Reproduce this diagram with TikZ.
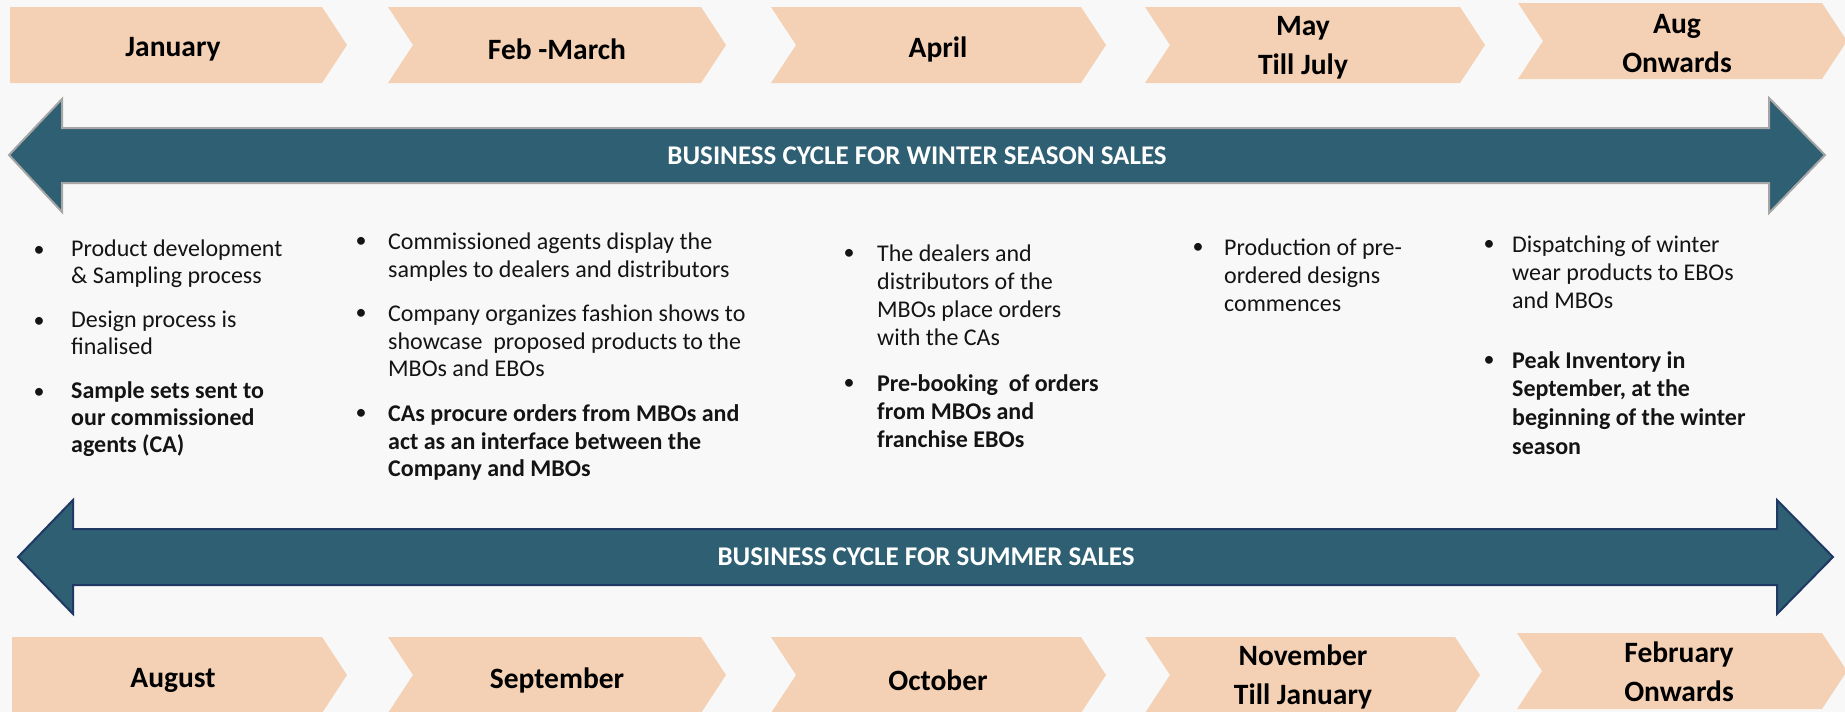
\documentclass[tikz,border=0pt]{standalone}
\usepackage{fontspec}
\setmainfont{Carlito}
\definecolor{peach}{RGB}{244,209,180}
\definecolor{arrowfill}{RGB}{46,95,114}
\definecolor{bgcol}{RGB}{248,248,248}
\definecolor{outgray}{RGB}{166,166,166}
\definecolor{navyline}{RGB}{31,56,100}
\definecolor{txt}{RGB}{20,20,20}
\newcommand\mychev[4]{\fill[chev] (#1,#3) -- (#2,#3) -- ({#2+25},{(#3+#4)/2}) -- (#2,#4) -- (#1,#4) -- ({#1+25},{(#3+#4)/2}) -- cycle;}
\tikzset{
  chev/.style={fill=peach},
  mlabel/.style={font=\fontsize{29.5}{39}\selectfont\bfseries, text=black, align=center, inner sep=0pt},
  alabel/.style={font=\fontsize{27}{30}\selectfont\bfseries, text=white, inner sep=0pt},
  ln/.style={anchor=base west, inner sep=0pt, font=\fontsize{24}{27}\selectfont, text=txt},
  lnb/.style={ln, font=\fontsize{24}{27}\selectfont\bfseries},
  bul/.style={anchor=base, inner sep=0pt, font=\fontsize{22}{27}\selectfont, text=txt},
}
\begin{document}
\begin{tikzpicture}[x=1pt,y=-1pt]
\useasboundingbox (0,0) rectangle (1845,712);
\fill[bgcol] (0,0) rectangle (1845,712);
% ---- top chevrons
\fill[chev] (10,7) -- (322,7) -- (347,45) -- (322,83) -- (10,83) -- cycle;
\mychev{388}{701}{7}{83}
\mychev{771}{1081}{7}{83}
\mychev{1145}{1460}{7}{83}
\mychev{1518}{1822}{3}{79}
\node[mlabel] (t1) at (173,49) {January};
\node[mlabel] (t2) at (557,49) {Feb -March};
\node[mlabel] (t3) at (938,49) {April};
\node[mlabel] (t4) at (1303,48) {May\\Till July};
\node[mlabel] (t5) at (1677,44) {Aug\\Onwards};
% ---- bottom chevrons
\fill[chev] (12,637) -- (322,637) -- (347,675) -- (322,713) -- (12,713) -- cycle;
\mychev{388}{701}{637}{713}
\mychev{771}{1081}{637}{713}
\mychev{1145}{1455}{637}{713}
\mychev{1517}{1822}{633}{709}
\node[mlabel] (b1) at (173,680) {August};
\node[mlabel] (b2) at (557,680) {September};
\node[mlabel] (b3) at (938,680) {October};
\node[mlabel] (b4) at (1303,677) {November\\Till January};
\node[mlabel] (b5) at (1679,672) {February\\Onwards};
% ---- winter arrow
\draw[fill=arrowfill, draw=outgray, line width=2pt, line join=miter]
  (9,155) -- (62,99) -- (62,128) -- (1769,128) -- (1769,98) -- (1825,155)
  -- (1769,213) -- (1769,183) -- (62,183) -- (62,212) -- cycle;
\node[alabel] (wl) at (917,156) {BUSINESS CYCLE FOR WINTER SEASON SALES};
% ---- summer arrow
\draw[fill=arrowfill, draw=navyline, line width=2pt, line join=miter]
  (18,557) -- (73,500) -- (73,529) -- (1777,529) -- (1777,500) -- (1833,557)
  -- (1777,614) -- (1777,585) -- (73,585) -- (73,614) -- cycle;
\node[alabel] (sl) at (926,557) {BUSINESS CYCLE FOR SUMMER SALES};
% ---- column 1
\node[bul] (c1b1) at (39,256) {•};
\node[ln] (c1l1) at (71,256) {Product development};
\node[ln] (c1l2) at (71,283) {\& Sampling process};
\node[bul] (c1b2) at (39,327) {•};
\node[ln] (c1l3) at (71,327) {Design process is};
\node[ln] (c1l4) at (71,354) {finalised};
\node[bul] (c1b3) at (39,398) {•};
\node[lnb] (c1l5) at (71,398) {Sample sets sent to};
\node[lnb] (c1l6) at (71,425) {our commissioned};
\node[lnb] (c1l7) at (71,452) {agents (CA)};
% ---- column 2
\node[bul] (c2b1) at (361,247) {•};
\node[ln] (c2l1) at (388,249) {Commissioned agents display the};
\node[ln] (c2l2) at (388,277) {samples to dealers and distributors};
\node[bul] (c2b2) at (361,319) {•};
\node[ln] (c2l3) at (388,321) {Company organizes fashion shows to};
\node[ln] (c2l4) at (388,349) {showcase\ \ proposed products to the};
\node[ln] (c2l5) at (388,376) {MBOs and EBOs};
\node[bul] (c2b3) at (361,419) {•};
\node[lnb] (c2l6) at (388,421) {CAs procure orders from MBOs and};
\node[lnb] (c2l7) at (388,449) {act as an interface between the};
\node[lnb] (c2l8) at (388,476) {Company and MBOs};
% ---- column 3
\node[bul] (c3b1) at (849,259) {•};
\node[ln] (c3l1) at (877,261) {The dealers and};
\node[ln] (c3l2) at (877,289) {distributors of the};
\node[ln] (c3l3) at (877,317) {MBOs place orders};
\node[ln] (c3l4) at (877,345) {with the CAs};
\node[bul] (c3b2) at (849,389) {•};
\node[lnb] (c3l5) at (877,391) {Pre-booking\ \ of orders};
\node[lnb] (c3l6) at (877,419) {from MBOs and};
\node[lnb] (c3l7) at (877,447) {franchise EBOs};
% ---- column 4
\node[bul] (c4b1) at (1198,253) {•};
\node[ln] (c4l1) at (1224,255) {Production of pre-};
\node[ln] (c4l2) at (1224,283) {ordered designs};
\node[ln] (c4l3) at (1224,311) {commences};
% ---- column 5
\node[bul] (c5b1) at (1489,250) {•};
\node[ln] (c5l1) at (1512,252) {Dispatching of winter};
\node[ln] (c5l2) at (1512,280) {wear products to EBOs};
\node[ln] (c5l3) at (1512,308) {and MBOs};
\node[bul] (c5b2) at (1489,366) {•};
\node[lnb] (c5l4) at (1512,368) {Peak Inventory in};
\node[lnb] (c5l5) at (1512,396) {September, at the};
\node[lnb] (c5l6) at (1512,425) {beginning of the winter};
\node[lnb] (c5l7) at (1512,454) {season};
\end{tikzpicture}
\end{document}
